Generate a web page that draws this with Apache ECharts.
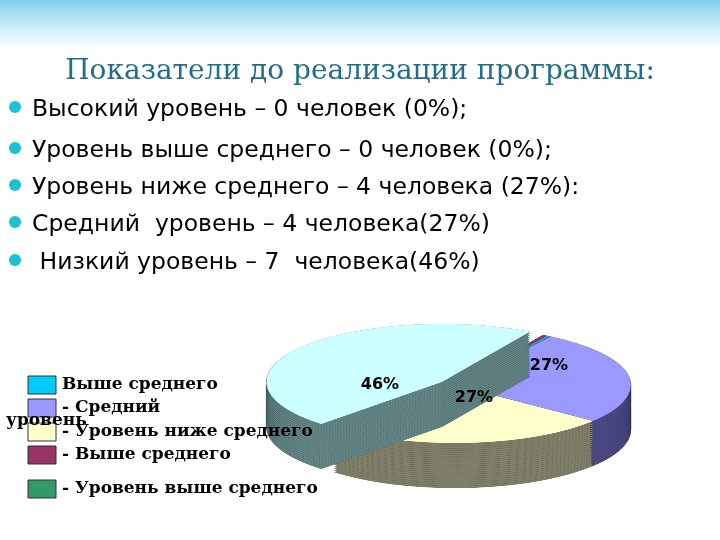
<!DOCTYPE html>
<html><head><meta charset="utf-8">
<script src="https://cdn.jsdelivr.net/npm/echarts@6/dist/echarts.min.js"></script>
<style>
body{margin:0;width:720px;height:540px;overflow:hidden;position:relative;
background:linear-gradient(180deg,#7fd0ec 0px,#bfe8f6 22px,#ffffff 48px);}
#pie{position:absolute;left:0;top:0;width:720px;height:1500px;transform:scaleY(0.33);transform-origin:0 0;}
#text{position:absolute;left:0;top:0;width:720px;height:540px;}
</style></head><body>
<div id="pie"></div><div id="text"></div>
<script>
// данные
const names = ['Выше среднего (сектор)', 'Выше среднего', 'Средний уровень', 'Уровень ниже среднего', 'Низкий уровень'];
const counts = [0, 0, 4, 4, 7];
const topColors = ['#993366', '#3399cc', '#9999ff', '#ffffcc', '#ccffff'];
const sideColors = ['#5a1a35', '#2a5a7a', '#4c4c88', '#80806a', '#648686'];
const pctLabels = ['46%', '27%', '27%'];
const bullets = ['Высокий уровень – 0 человек (0%);', 'Уровень выше среднего – 0 человек (0%);',
  'Уровень ниже среднего – 4 человека (27%):', 'Средний  уровень – 4 человека(27%)', ' Низкий уровень – 7  человека(46%)'];
const legendNames = ['Выше среднего', '- Средний\u00a0\u00a0\u00a0\u00a0\u00a0', '- Уровень ниже среднего', '- Выше среднего', '- Уровень выше среднего'];
const legendColors = ['#00ccff', '#9999ff', '#ffffcc', '#993366', '#339966'];

const cx = 455, cy = 1167, r = 176, depth = 136;

function layer(yOff, colors) {
  return {
    type: 'pie', radius: r, center: [cx, cy + yOff], startAngle: 60,
    minAngle: 1.5, silent: true, animation: false,
    selectedMode: 'single', selectedOffset: 16,
    label: { show: false }, labelLine: { show: false },
    itemStyle: { borderColor: 'rgba(0,0,0,0.35)', borderWidth: 0.6 },
    data: counts.map((v, i) => ({ value: v, name: names[i], selected: i === 4,
      itemStyle: { color: colors[i] } }))
  };
}
const series = [];
for (let d = depth; d > 0; d -= 6) series.push(layer(d, sideColors));
series.push(layer(0, topColors));
echarts.init(document.getElementById('pie')).setOption({ series });

const g = [];
g.push({ type: 'text', left: 'center', top: 58, style: { text: 'Показатели до реализации программы:',
  font: '28px "DejaVu Serif"', fill: '#1f6f8b' } });
const by = [110, 151, 188, 225, 263];
bullets.forEach((t, i) => {
  g.push({ type: 'circle', shape: { cx: 15, cy: by[i] - 3, r: 6 }, style: { fill: '#19c3d6' } });
  g.push({ type: 'text', x: 32, y: by[i], style: { text: t, font: '23.5px "DejaVu Sans"', fill: '#000',
    verticalAlign: 'middle' } });
});
const ly = [385, 408, 432, 455, 489];
legendNames.forEach((t, i) => {
  g.push({ type: 'rect', shape: { x: 28, y: ly[i] - 9, width: 28, height: 18 },
    style: { fill: legendColors[i], stroke: '#333', lineWidth: 1 } });
  g.push({ type: 'text', x: 62, y: ly[i], style: { text: t, font: 'bold 17px "DejaVu Serif"', fill: '#000',
    verticalAlign: 'middle' } });
});
g.push({ type: 'text', x: 6, y: 421, style: { text: 'уровень', font: 'bold 17px "DejaVu Serif"', fill: '#000', verticalAlign: 'middle' } });
const lp = [[380, 385], [549, 366], [474, 398]];
pctLabels.forEach((t, i) => {
  g.push({ type: 'text', x: lp[i][0], y: lp[i][1], style: { text: t, font: 'bold 16px "Liberation Sans Narrow", "DejaVu Sans"',
    fill: '#000', align: 'center', verticalAlign: 'middle' } });
});
echarts.init(document.getElementById('text')).setOption({ graphic: g });
</script></body></html>
